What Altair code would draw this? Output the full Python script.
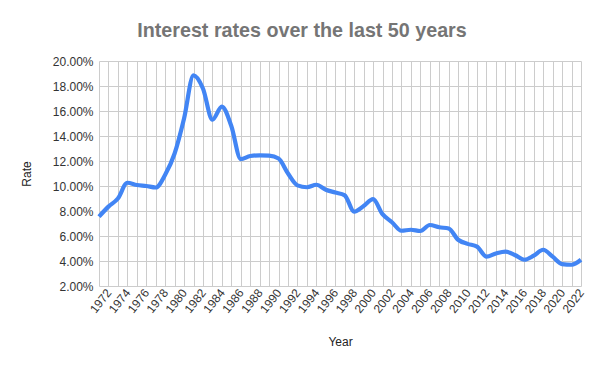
import altair as alt
import pandas as pd

years = list(range(1971, 2023))
rates = [7.55, 8.35, 9.0, 10.26, 10.08, 10.0, 9.88, 10.9, 12.6, 15.4,
         18.85, 17.8, 15.3, 16.35, 14.8, 12.15, 12.4, 12.45, 12.43, 12.2,
         11.0, 10.05, 9.9, 10.1, 9.7, 9.48, 9.25, 7.95, 8.4, 8.95,
         7.75, 7.1, 6.42, 6.5, 6.4, 6.88, 6.7, 6.6, 5.7, 5.37,
         5.15, 4.35, 4.6, 4.75, 4.48, 4.1, 4.43, 4.9, 4.35, 3.75,
         3.7, 4.1]
y_ticks = [0.02, 0.04, 0.06, 0.08, 0.10, 0.12, 0.14, 0.16, 0.18, 0.20]

df = pd.DataFrame({"Year": years, "Rate": [r / 100 for r in rates]})

FONT = "Liberation Sans"

chart = alt.Chart(df).mark_line(
    interpolate="monotone", color="#4285F4", strokeWidth=4.2
).encode(
    x=alt.X("Year:Q",
            scale=alt.Scale(domain=[1971, 2022], nice=False, zero=False),
            axis=alt.Axis(values=years, format="d",
                          labelExpr="datum.value % 2 == 0 ? datum.label : ''",
                          labelOverlap=False,
                          labelAngle=-52, labelAlign="right", labelBaseline="middle",
                          labelPadding=4, ticks=False, domain=False,
                          gridColor="#cccccc", labelFont=FONT, labelFontSize=12,
                          labelColor="#333333", title="Year", titleFont=FONT,
                          titleFontSize=12, titleFontWeight="normal",
                          titleColor="#222222", titlePadding=22)),
    y=alt.Y("Rate:Q",
            scale=alt.Scale(domain=[0.02, 0.20], nice=False, zero=False),
            axis=alt.Axis(values=y_ticks, format=".2%", ticks=False, domain=False,
                          gridColor="#cccccc", labelFont=FONT, labelFontSize=12,
                          labelColor="#333333", labelPadding=6, title="Rate",
                          titleFont=FONT, titleFontSize=12, titleFontWeight="normal",
                          titleColor="#222222", titlePadding=19)),
).properties(
    width=482,
    height=225,
    autosize=alt.AutoSizeParams(type="none"),
    padding={"left": 91, "top": 53, "right": 10, "bottom": 70},
    title=alt.TitleParams("Interest rates over the last 50 years", font=FONT,
                          fontSize=19.7, fontWeight="bold", color="#757575",
                          anchor="middle", dx=-38, offset=14),
).configure_view(stroke=None)

chart.save("out.html", embed_options={"renderer": "svg", "actions": False})
